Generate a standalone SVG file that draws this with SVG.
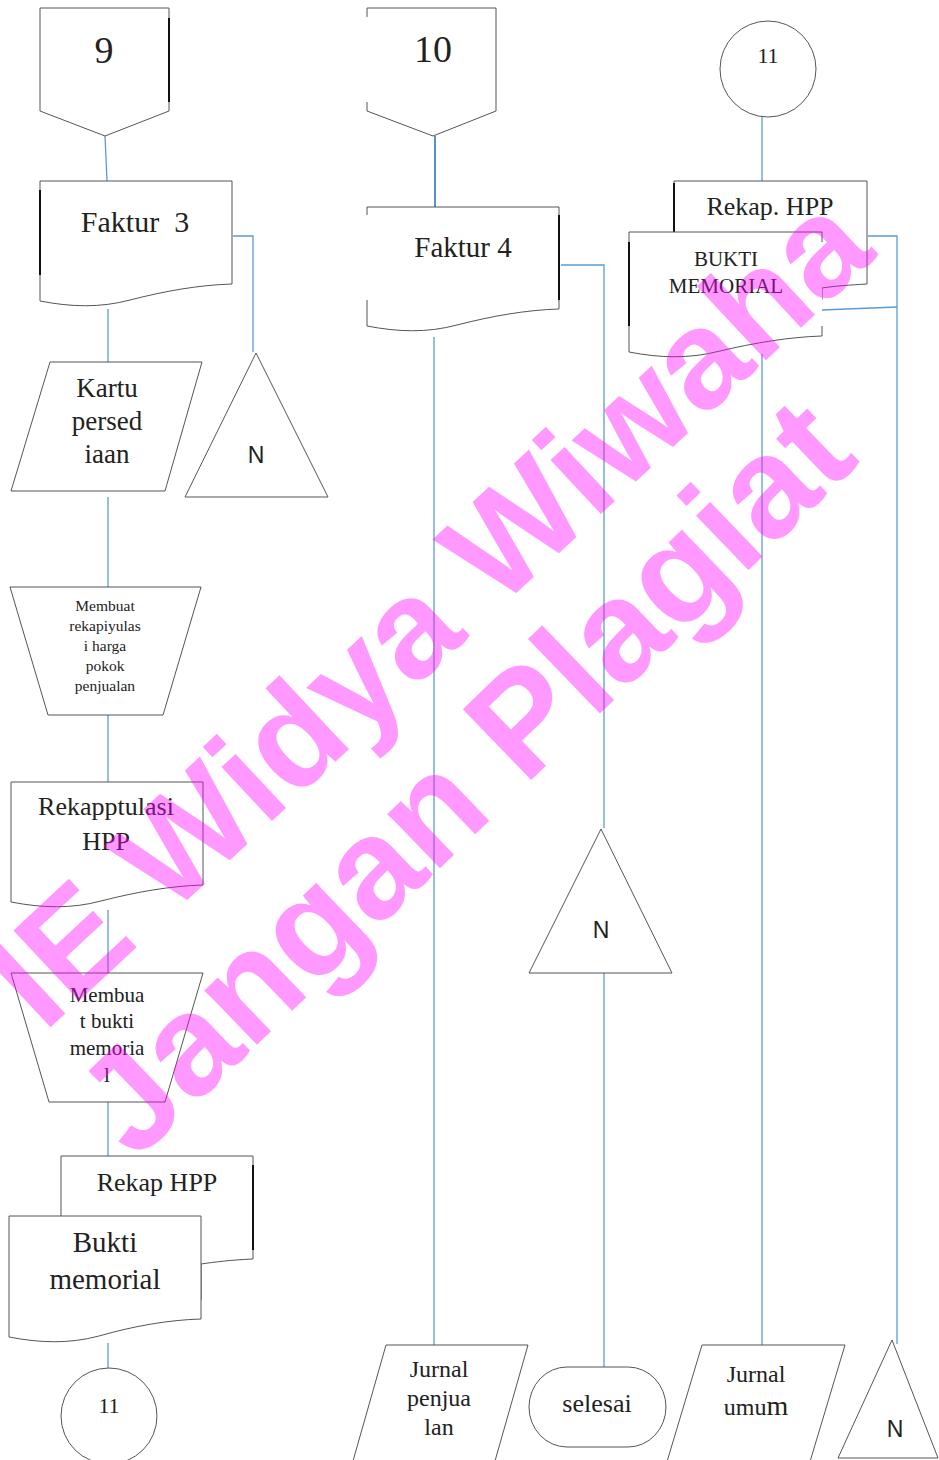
<svg xmlns="http://www.w3.org/2000/svg" width="939" height="1460" viewBox="0 0 939 1460">
<style>
.s{fill:#fff;stroke:#555;stroke-width:1}
.o{fill:none;stroke:#555;stroke-width:1}
.f{fill:#fff;stroke:none}
.k{stroke:#111;stroke-width:2;fill:none}
.c{stroke:#5b9bd5;stroke-width:1.3;fill:none}
.t{font-family:"Liberation Serif","Times New Roman",serif;fill:#222;text-anchor:middle}
.n{font-family:"Liberation Sans",Arial,sans-serif;fill:#222;text-anchor:middle;font-size:23px}
.w{font-family:"Liberation Sans",Arial,sans-serif;font-weight:bold;fill:#ff00ff;fill-opacity:0.4;text-anchor:middle}
</style>
<rect width="939" height="1460" fill="#fff"/>
<g id="connectors">
<path class="c" d="M105,136 L107,181"/>
<path class="c" d="M233,236 H253 V352"/>
<path class="c" d="M108,309 V362"/>
<path class="c" d="M108,497 V587"/>
<path class="c" d="M108,715 V783"/>
<path class="c" d="M108,910 V973"/>
<path class="c" d="M108,1102 V1157"/>
<path class="c" d="M108,1343 V1368"/>
<path class="c" d="M435,136 V207" style="stroke-width:1.8;stroke:#4a86c5"/>
<path class="c" d="M561,265 H604 V828"/>
<path class="c" d="M604,973 V1367"/>
<path class="c" d="M434,337 V1345"/>
<path class="c" d="M762,117 V181"/>
<path class="c" d="M868,236 H897 V1344"/>
<path class="c" d="M822,310 L897,307"/>
<path class="c" d="M762,354 V1345"/>
</g>
<g id="n9">
<path class="s" d="M40,8 H169 V111 L105,136 L40,111 Z"/>
<path class="k" d="M169,18 V102"/>
<text class="t" x="104" y="63" font-size="38">9</text>
</g>
<g id="n10">
<path class="f" d="M367,8 H496 V111 L433,136 L367,111 Z"/>
<path class="o" d="M367,17 V8 H496 V111 L433,136 L367,111 V102"/>
<text class="t" x="433" y="62" font-size="38">10</text>
</g>
<g id="n11top">
<circle class="s" cx="768" cy="69" r="48"/>
<text class="t" x="768" y="63" font-size="22">11</text>
</g>
<g id="faktur3">
<path class="s" d="M40,181 H232 V284 C199,285 165,291 130,300 C100,308 71,307 40,301 Z"/>
<path class="k" d="M40,190 V275"/>
<text class="t" x="135" y="232" font-size="30" style="white-space:pre">Faktur  3</text>
</g>
<g id="kartu">
<polygon class="s" points="50,362 202,362 165,491 11,491"/>
<text class="t" font-size="27"><tspan x="107" y="397">Kartu</tspan><tspan x="107" y="430">persed</tspan><tspan x="107" y="463">iaan</tspan></text>
</g>
<g id="n1">
<polygon class="s" points="256,353 328,497 185,497"/>
<text class="n" x="256" y="463">N</text>
</g>
<g id="membuat1">
<polygon class="s" points="10,587 201,587 163,715 48,715"/>
<text class="t" font-size="15.5"><tspan x="105" y="611">Membuat</tspan><tspan x="105" y="631">rekapiyulas</tspan><tspan x="105" y="651">i harga</tspan><tspan x="105" y="671">pokok</tspan><tspan x="105" y="691">penjualan</tspan></text>
</g>
<g id="rekapptulasi">
<path class="s" d="M11,782 H203 V885 C170,886 136,892 101,901 C71,909 42,908 11,902 Z"/>
<text class="t" font-size="26"><tspan x="106" y="815">Rekapptulasi</tspan><tspan x="106" y="850">HPP</tspan></text>
</g>
<g id="membuat2">
<polygon class="s" points="11,973 203,973 165,1102 49,1102"/>
<text class="t" font-size="21"><tspan x="107" y="1002">Membua</tspan><tspan x="107" y="1028">t bukti</tspan><tspan x="107" y="1055">memoria</tspan><tspan x="107" y="1082">l</tspan></text>
</g>
<g id="rekaphpp2">
<path class="s" d="M61,1156 H253 V1259 C230,1260 215,1262 201,1264 L201,1300 L61,1300 Z"/>
<path class="k" d="M253,1165 V1250"/>
<text class="t" x="157" y="1191" font-size="26">Rekap HPP</text>
</g>
<g id="bukti2">
<path class="s" d="M9,1216 H201 V1319 C168,1320 134,1326 99,1336 C69,1344 40,1343 9,1337 Z"/>
<text class="t" font-size="29"><tspan x="105" y="1252">Bukti</tspan><tspan x="105" y="1289">memorial</tspan></text>
</g>
<g id="n11bottom">
<circle class="s" cx="109" cy="1416" r="48"/>
<text class="t" x="109" y="1413" font-size="22">11</text>
</g>
<g id="faktur4">
<path class="f" d="M367,207 H559 V309 C526,310 492,316 457,325 C427,333 398,332 367,326 Z"/>
<path class="o" d="M367,215 V207 H559 V309 C526,310 492,316 457,325 C427,333 398,332 367,326 V300"/>
<path class="k" d="M559,215 V300"/>
<text class="t" x="463" y="257" font-size="29">Faktur 4</text>
</g>
<g id="n2">
<polygon class="s" points="601,829 672,973 529,973"/>
<text class="n" x="601" y="938">N</text>
</g>
<g id="jurnalpenjualan">
<polygon class="s" points="386,1345 528,1345 491,1475 349,1475"/>
<text class="t" font-size="24"><tspan x="439" y="1377">Jurnal</tspan><tspan x="439" y="1406">penjua</tspan><tspan x="439" y="1435">lan</tspan></text>
</g>
<g id="selesai">
<rect class="s" x="529" y="1367" width="137" height="80" rx="38" ry="40"/>
<text class="t" x="597" y="1412" font-size="26">selesai</text>
</g>
<g id="rekaphpp1">
<path class="s" d="M674,181 H867 V284 C850,285 835,286 822,288 L822,300 L674,300 Z"/>
<path class="k" d="M674,183 V232"/>
<text class="t" x="770" y="215" font-size="26">Rekap. HPP</text>
</g>
<g id="bukti1">
<path class="f" d="M629,232 H822 V336 C789,337 754,343 720,351 C689,359 660,358 629,352 Z"/>
<path class="o" d="M822,326 V336 C789,337 754,343 720,351 C689,359 660,358 629,352 V232 H822 V242"/>
<path class="k" d="M629,242 V326"/>
<text class="t" font-size="21"><tspan x="726" y="266">BUKTI</tspan><tspan x="726" y="293">MEMORIAL</tspan></text>
</g>
<g id="jurnalumum">
<polygon class="s" points="702,1345 845,1345 806,1475 663,1475"/>
<text class="t" font-size="24"><tspan x="756" y="1382">Jurnal</tspan><tspan x="756" y="1415">umu<tspan font-size="28">m</tspan></tspan></text>
</g>
<g id="n3">
<polygon class="s" points="892,1340 938,1458 838,1458"/>
<text class="n" x="895" y="1437">N</text>
</g>
<g id="watermark">
<text class="w" font-size="140" transform="translate(427,608) rotate(-43)" y="50">IE Widya Wiwaha</text>
<text class="w" font-size="143" transform="translate(463,775) rotate(-44)" y="51">Jangan Plagiat</text>
</g>
</svg>
